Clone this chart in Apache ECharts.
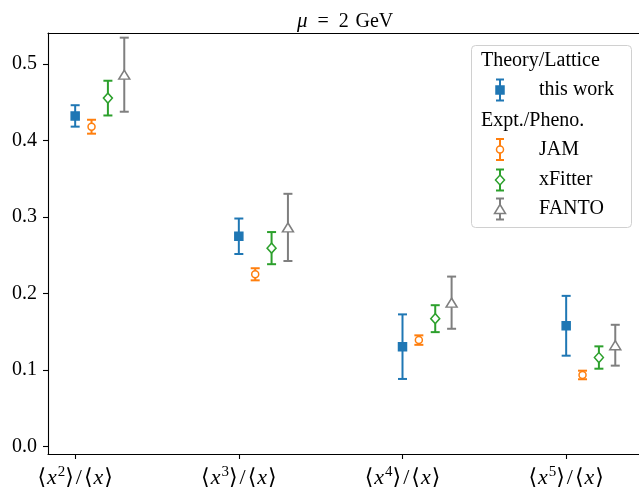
<!DOCTYPE html>
<html>
<head>
<meta charset="utf-8">
<title>mu = 2 GeV</title>
<script src="https://cdn.jsdelivr.net/npm/echarts@6/dist/echarts.min.js"></script>
<style>
  html, body { margin: 0; padding: 0; background: #fff; }
  #main { width: 639px; height: 489px; }
</style>
</head>
<body>
<div id="main"></div>
<script>
// categories: <x^n>/<x>, n = 2..5
var catPowers = ['2', '3', '4', '5'];
var yTicks = [0.0, 0.1, 0.2, 0.3, 0.4, 0.5];

// central values and symmetric errors
var thisWorkVal = [0.432, 0.2747, 0.1304, 0.1577];
var thisWorkErr = [0.014, 0.0232, 0.0422, 0.0391];
var jamVal = [0.4179, 0.225, 0.139, 0.0934];
var jamErr = [0.0091, 0.0079, 0.0062, 0.0056];
var xfitterVal = [0.4553, 0.2592, 0.167, 0.1162];
var xfitterErr = [0.0227, 0.021, 0.0176, 0.0146];
var fantoVal = [0.4859, 0.2863, 0.1879, 0.1323];
var fantoErr = [0.0484, 0.0439, 0.0341, 0.0267];

var FONT = 'Liberation Serif, DejaVu Serif, serif';

var groups = [
  { name: 'this work', val: thisWorkVal, err: thisWorkErr, color: '#1f77b4', shift: 0.0,
    symbol: 'rect', size: 8, fill: '#1f77b4' },
  { name: 'JAM', val: jamVal, err: jamErr, color: '#ff7f0e', shift: 0.1,
    symbol: 'circle', size: 7, fill: '#fff' },
  { name: 'xFitter', val: xfitterVal, err: xfitterErr, color: '#2ca02c', shift: 0.2,
    symbol: 'diamond', size: [9, 10], fill: '#fff' },
  { name: 'FANTO', val: fantoVal, err: fantoErr, color: '#7f7f7f', shift: 0.3,
    symbol: 'triangle', size: [11, 9], fill: '#fff' }
];

// errorbar: vertical line + caps
function barRenderer(color) {
  return function (params, api) {
    var x = api.value(0);
    var top = api.coord([x, api.value(2)]);
    var bot = api.coord([x, api.value(3)]);
    var st = { stroke: color, lineWidth: 2 };
    return {
      type: 'group',
      children: [
        { type: 'line', shape: { x1: top[0], y1: top[1], x2: bot[0], y2: bot[1] }, style: st },
        { type: 'line', shape: { x1: top[0] - 4.5, y1: top[1], x2: top[0] + 4.5, y2: top[1] }, style: st },
        { type: 'line', shape: { x1: bot[0] - 4.5, y1: bot[1], x2: bot[0] + 4.5, y2: bot[1] }, style: st }
      ]
    };
  };
}

var series = [];
groups.forEach(function (g) {
  var bars = [], pts = [];
  for (var i = 0; i < catPowers.length; i++) {
    var x = i + g.shift;
    bars.push([x, g.val[i], g.val[i] + g.err[i], g.val[i] - g.err[i]]);
    pts.push([x, g.val[i]]);
  }
  series.push({
    type: 'custom', name: g.name, data: bars, renderItem: barRenderer(g.color),
    silent: true, z: 2
  });
  series.push({
    type: 'scatter', name: g.name, data: pts, symbol: g.symbol, symbolSize: g.size,
    itemStyle: { color: g.fill, borderColor: g.color, borderWidth: 1.5, opacity: 1 },
    silent: true, z: 3
  });
});

function catLabel(v) {
  var i = Math.round(v);
  return '{b|⟨}{i|x}{s|' + catPowers[i] + '}{b|⟩}{sl|/}{b|⟨}{i|x}{b|⟩}';
}

// legend drawn by hand (section headers + errorbar handles)
var LX = 500, TX = 539;
function handle(g, cy) {
  var st = { stroke: g.color, lineWidth: 2 };
  var kids = [
    { type: 'line', shape: { x1: LX, y1: cy - 10.5, x2: LX, y2: cy + 10.5 }, style: st },
    { type: 'line', shape: { x1: LX - 4, y1: cy - 10.5, x2: LX + 4, y2: cy - 10.5 }, style: st },
    { type: 'line', shape: { x1: LX - 4, y1: cy + 10.5, x2: LX + 4, y2: cy + 10.5 }, style: st }
  ];
  var mst = { fill: g.fill, stroke: g.color, lineWidth: 1.5 };
  if (g.symbol === 'rect') {
    kids.push({ type: 'rect', shape: { x: LX - 4, y: cy - 4, width: 8, height: 8 }, style: mst });
  } else if (g.symbol === 'circle') {
    kids.push({ type: 'circle', shape: { cx: LX, cy: cy, r: 3.5 }, style: mst });
  } else if (g.symbol === 'diamond') {
    kids.push({ type: 'polygon', shape: { points: [[LX, cy - 5], [LX + 4.5, cy], [LX, cy + 5], [LX - 4.5, cy]] }, style: mst });
  } else {
    kids.push({ type: 'polygon', shape: { points: [[LX, cy - 4.5], [LX + 5.5, cy + 4.5], [LX - 5.5, cy + 4.5]] }, style: mst });
  }
  kids.push({ type: 'text', x: TX, y: cy, style: { text: g.name, font: '20px ' + FONT, fill: '#000', verticalAlign: 'middle' } });
  return kids;
}

var legendRows = [90, 149.5, 180, 209];
var legendKids = [
  { type: 'rect', shape: { x: 471.5, y: 45.5, width: 160, height: 182, r: 4 },
    style: { fill: 'rgba(255,255,255,0.8)', stroke: '#d0d0d0', lineWidth: 1 } },
  { type: 'text', x: 481, y: 61, style: { text: 'Theory/Lattice', font: '20px ' + FONT, fill: '#000', verticalAlign: 'middle' } },
  { type: 'text', x: 481, y: 121, style: { text: 'Expt./Pheno.', font: '20px ' + FONT, fill: '#000', verticalAlign: 'middle' } }
];
groups.forEach(function (g, k) {
  legendKids = legendKids.concat(handle(g, legendRows[k]));
});

var chart = echarts.init(document.getElementById('main'), null, { renderer: 'canvas' });
chart.setOption({
  animation: false,
  backgroundColor: '#fff',
  title: {
    text: '{i|μ}\u2002=\u20022\u2004GeV',
    left: 292, top: 6,
    textStyle: {
      fontFamily: FONT, fontSize: 20, fontWeight: 'normal', color: '#000',
      rich: { i: { fontFamily: FONT, fontSize: 21, fontStyle: 'italic', color: '#000' } }
    }
  },
  grid: { left: 48, right: 0, top: 33, bottom: 34, containLabel: false },
  xAxis: [{
    type: 'value', min: -0.166, max: 3.445, position: 'bottom',
    splitLine: { show: false },
    axisLine: { show: true, onZero: false, lineStyle: { color: '#000', width: 1.1 } },
    axisTick: { show: true, customValues: [0, 1, 2, 3], length: 5, lineStyle: { color: '#000', width: 1.1 } },
    axisLabel: {
      show: true, customValues: [0, 1, 2, 3], margin: 11, color: '#000',
      formatter: catLabel,
      rich: {
        b: { fontFamily: FONT, fontSize: 22, color: '#000', lineHeight: 26 },
        sl: { fontFamily: FONT, fontSize: 22, color: '#000', lineHeight: 26, padding: [0, 2, 0, 2] },
        i: { fontFamily: FONT, fontSize: 22, fontStyle: 'italic', color: '#000', lineHeight: 26, padding: [0, 1, 0, 1] },
        s: { fontFamily: FONT, fontSize: 15, color: '#000', lineHeight: 14, verticalAlign: 'top' }
      }
    }
  }, {
    type: 'value', min: -0.166, max: 3.445, position: 'top',
    splitLine: { show: false },
    axisLine: { show: true, onZero: false, lineStyle: { color: '#000', width: 1.1 } },
    axisTick: { show: false }, axisLabel: { show: false }
  }],
  yAxis: {
    type: 'value', min: -0.0099, max: 0.5404,
    splitLine: { show: false },
    axisLine: { show: true, onZero: false, lineStyle: { color: '#000', width: 1.1 } },
    axisTick: { show: true, customValues: yTicks, length: 5, lineStyle: { color: '#000', width: 1.1 } },
    axisLabel: {
      show: true, customValues: yTicks, margin: 11, color: '#000',
      fontFamily: FONT, fontSize: 20,
      formatter: function (v) { return v.toFixed(1); }
    }
  },
  graphic: [{ type: 'group', z: 100, children: legendKids }],
  series: series
});
</script>
</body>
</html>
